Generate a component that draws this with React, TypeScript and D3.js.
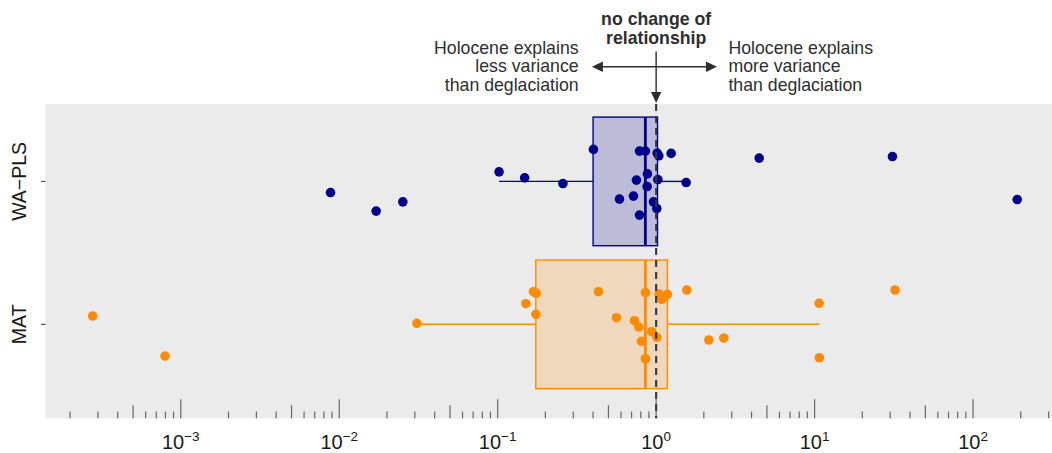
import React from "react";
import * as d3 from "d3";

// Methods shown on the y axis (top to bottom)
const methods = ["WA\u2212PLS", "MAT"];

// Ratio of variance explained (Holocene / deglaciation) per record, WA-PLS
const waplsRatio = [
  0.00881, 0.0171, 0.0252, 0.102, 0.148, 0.258, 0.402, 0.587, 0.719, 0.751,
  0.785, 0.855, 0.785, 0.881, 0.877, 0.962, 1.01, 1.015, 1.04, 1.025, 1.243,
  1.546, 4.47, 31.0, 190,
];
// Vertical jitter of each WA-PLS point, in category units (positive = down)
const waplsJitter = [
  0.078, 0.208, 0.143, -0.067, -0.025, 0.015, -0.224, 0.124, 0.103, -0.009,
  -0.212, -0.212, 0.236, -0.053, 0.036, 0.143, 0.19, -0.198, -0.179, -0.013,
  -0.196, 0.008, -0.163, -0.174, 0.127,
];

// Ratio of variance explained per record, MAT
const matRatio = [
  0.000278, 0.000795, 0.0309, 0.1506, 0.1682, 0.1749, 0.1742, 0.4325, 0.5617,
  0.7295, 0.7776, 0.808, 0.856, 0.856, 0.9395, 1.01, 1.0445, 1.086, 1.128,
  1.178, 1.562, 2.15, 2.673, 10.68, 10.72, 32.2,
];
const matJitter = [
  -0.058, 0.222, -0.007, -0.144, -0.228, -0.217, -0.07, -0.228, -0.046, -0.025,
  0.019, 0.119, -0.221, 0.241, 0.052, 0.091, -0.212, -0.175, -0.193, -0.21,
  -0.24, 0.11, 0.096, -0.147, 0.234, -0.24,
];

// Box summaries per method (same order as `methods`)
const whiskerLow = [0.102, 0.0309];
const boxQ1 = [0.4, 0.174];
const boxMedian = [0.855, 0.855];
const boxQ3 = [1.02, 1.178];
const whiskerHigh = [1.546, 10.72];

const methodColors = ["#00008B", "#FF8C00"];

// Decades labelled on the x axis
const decadeExponents = [-3, -2, -1, 0, 1, 2];

// Annotation above the panel
const centerTitle = ["no change of", "relationship"];
const leftNote = ["Holocene explains", "less variance", "than deglaciation"];
const rightNote = ["Holocene explains", "more variance", "than deglaciation"];

const W = 1052;
const H = 453;
const panel = { left: 45.5, right: 1052, top: 104, bottom: 418.3 };
const FONT = "'Liberation Sans', Arial, Helvetica, sans-serif";

export default function App() {
  const x = d3
    .scaleLog()
    .domain([1.4e-4, 315])
    .range([panel.left, panel.right]);

  const y = d3
    .scalePoint<string>()
    .domain(methods)
    .range([181.4, 324.3]);
  const step = y.step();
  const boxHalf = step * 0.45;

  const series = [
    { ratio: waplsRatio, jitter: waplsJitter },
    { ratio: matRatio, jitter: matJitter },
  ];

  // log ticks: 1..9 x 10^k inside the panel
  const ticks: { v: number; m: number }[] = [];
  for (let k = -5; k <= 3; k++) {
    for (let m = 1; m <= 9; m++) {
      const v = m * Math.pow(10, k);
      const px = x(v);
      if (px >= panel.left + 1 && px <= panel.right - 1) ticks.push({ v, m });
    }
  }

  const x1 = x(1);
  const arrowY = 66.7;
  const arrowLeft = x(0.393);
  const arrowRight = x(2.42);
  const leftTextX = x(0.324);
  const rightTextX = x(2.86);
  const lineGap = 18.6;
  const textColor = "#2e2e2e";
  const arrowColor = "#2e2e2e";

  const head = (tipX: number, tipY: number, dir: "left" | "right" | "down") => {
    const L = 11;
    const hw = 5.2;
    let pts: [number, number][];
    if (dir === "left")
      pts = [[tipX, tipY], [tipX + L, tipY - hw], [tipX + L, tipY + hw]];
    else if (dir === "right")
      pts = [[tipX, tipY], [tipX - L, tipY - hw], [tipX - L, tipY + hw]];
    else pts = [[tipX, tipY], [tipX - hw, tipY - L], [tipX + hw, tipY - L]];
    return <polygon points={pts.map((p) => p.join(",")).join(" ")} fill={arrowColor} />;
  };

  return (
    <svg
      width={W}
      height={H}
      style={{ position: "absolute", left: 0, top: 0, background: "#ffffff" }}
      fontFamily={FONT}
    >
      {/* panel background */}
      <rect
        x={panel.left}
        y={panel.top}
        width={panel.right - panel.left}
        height={panel.bottom - panel.top}
        fill="#EBEBEB"
      />

      {/* log ticks drawn inside the panel */}
      {ticks.map((t, i) => {
        const len = t.m === 1 ? 19 : t.m === 5 ? 13 : 6.7;
        const px = x(t.v);
        return (
          <line
            key={"t" + i}
            x1={px}
            x2={px}
            y1={panel.bottom}
            y2={panel.bottom - len}
            stroke="#666666"
            strokeWidth={1.2}
          />
        );
      })}

      {/* boxes */}
      {methods.map((m, i) => {
        const cy = y(m)!;
        const c = methodColors[i];
        return (
          <g key={"b" + m}>
            <line x1={x(whiskerLow[i])} x2={x(boxQ1[i])} y1={cy} y2={cy} stroke={c} strokeWidth={1.4} />
            <line x1={x(boxQ3[i])} x2={x(whiskerHigh[i])} y1={cy} y2={cy} stroke={c} strokeWidth={1.4} />
            <rect
              x={x(boxQ1[i])}
              y={cy - boxHalf}
              width={x(boxQ3[i]) - x(boxQ1[i])}
              height={boxHalf * 2}
              fill={c}
              fillOpacity={0.2}
              stroke={c}
              strokeWidth={1.4}
            />
            <line
              x1={x(boxMedian[i])}
              x2={x(boxMedian[i])}
              y1={cy - boxHalf}
              y2={cy + boxHalf}
              stroke={c}
              strokeWidth={2.8}
            />
          </g>
        );
      })}

      {/* jittered points */}
      {methods.map((m, i) => {
        const cy = y(m)!;
        const s = series[i];
        return (
          <g key={"p" + m}>
            {s.ratio.map((v, j) => (
              <circle
                key={j}
                cx={x(v)}
                cy={cy + s.jitter[j] * step}
                r={4.8}
                fill={methodColors[i]}
              />
            ))}
          </g>
        );
      })}

      {/* reference line at ratio = 1 */}
      <line
        x1={x1}
        x2={x1}
        y1={panel.top}
        y2={panel.bottom}
        stroke="#383838"
        strokeWidth={2.1}
        strokeDasharray="7,5"
      />

      {/* y axis */}
      {methods.map((m) => (
        <g key={"y" + m}>
          <line x1={41} x2={panel.left} y1={y(m)} y2={y(m)} stroke="#333333" strokeWidth={1} />
          <text
            transform={`translate(25.5,${y(m)}) rotate(-90)`}
            textAnchor="middle"
            fontSize={19.5}
            fill="#1a1a1a"
          >
            {m}
          </text>
        </g>
      ))}

      {/* x axis labels */}
      {decadeExponents.map((k) => (
        <text
          key={"xl" + k}
          x={x(Math.pow(10, k))}
          y={448.5}
          textAnchor="middle"
          fontSize={20}
          fill="#1a1a1a"
        >
          10
          <tspan fontSize={13.5} dy={-8}>
            {k < 0 ? "\u2212" + Math.abs(k) : String(k)}
          </tspan>
        </text>
      ))}

      {/* annotation */}
      {centerTitle.map((t, i) => (
        <text
          key={"ct" + i}
          x={x1}
          y={25 + i * lineGap}
          textAnchor="middle"
          fontSize={17.7}
          fontWeight="bold"
          fill={textColor}
        >
          {t}
        </text>
      ))}
      {leftNote.map((t, i) => (
        <text
          key={"ln" + i}
          x={leftTextX}
          y={53.5 + i * lineGap}
          textAnchor="end"
          fontSize={17.7}
          fill={textColor}
        >
          {t}
        </text>
      ))}
      {rightNote.map((t, i) => (
        <text
          key={"rn" + i}
          x={rightTextX}
          y={53.5 + i * lineGap}
          textAnchor="start"
          fontSize={17.7}
          fill={textColor}
        >
          {t}
        </text>
      ))}

      {/* arrows */}
      <line x1={arrowLeft + 6} x2={arrowRight - 6} y1={arrowY} y2={arrowY} stroke={arrowColor} strokeWidth={1.4} />
      {head(arrowLeft, arrowY, "left")}
      {head(arrowRight, arrowY, "right")}
      <line x1={x1} x2={x1} y1={51.5} y2={97} stroke={arrowColor} strokeWidth={1.4} />
      {head(x1, 103, "down")}
    </svg>
  );
}
